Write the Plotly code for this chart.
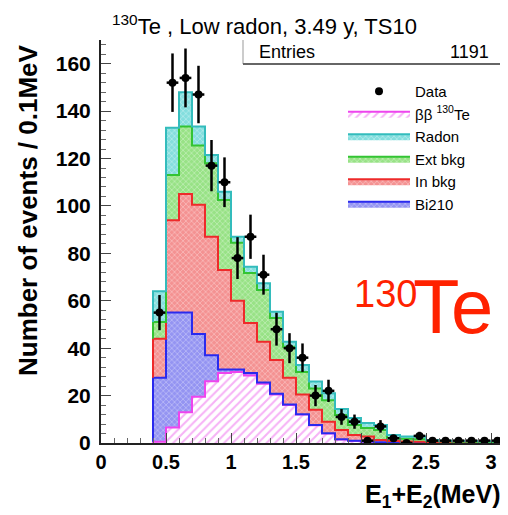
import numpy as np
import plotly.graph_objects as go

# ---- data (0.1 MeV bins, edges 0.4 ... 3.1) ----
bin_edges = [0.4, 0.5, 0.6, 0.7, 0.8, 0.9, 1.0, 1.1, 1.2, 1.3, 1.4, 1.5, 1.6, 1.7,
             1.8, 1.9, 2.0, 2.1, 2.2, 2.3, 2.4, 2.5, 2.6, 2.7, 2.8, 2.9, 3.0, 3.1]
bb2nu = [0.5, 6.5, 13, 19.5, 26, 29.5, 30, 28.5, 25, 20.5, 16, 12, 7.5, 4, 1.5, 0.8,
         0.5, 0.3, 0.2, 0.1, 0.1, 0, 0, 0, 0, 0, 0]
bi210 = [27, 48.5, 42, 26.5, 11, 1.5, 1, 1, 0.5, 0.3, 0.2, 0.1, 0.1, 0.1, 0.1, 0.1,
         0.1, 0, 0, 0, 0, 0, 0, 0, 0, 0, 0]
in_bkg = [16.5, 39, 50, 54.5, 50, 42, 29, 21.1, 17.2, 14.2, 11.3, 8.4, 6.4, 4.9, 3.9,
          2.5, 2.1, 1.0, 0.6, 0.5, 0.4, 0.3, 0.2, 0.1, 0.1, 0.1, 0.1]
ext_bkg = [7, 19, 28.5, 25, 31, 29.5, 24.5, 21.1, 21.8, 17.7, 13.1, 9.5, 9, 9, 6.3,
           4.2, 3.6, 4.2, 1.3, 1.2, 1.1, 0.6, 0.5, 0.4, 0.4, 0.3, 0.3]
radon = [13, 20, 14.5, 8, 3.5, 3.5, 2.5, 2.7, 2.9, 2.7, 2.1, 2.9, 2.9, 3, 2.5, 2.9,
         2.1, 2.1, 1.3, 0.9, 1.1, 0.4, 0.3, 0.3, 0.3, 0.3, 0.3]
data_counts = [55, 152, 154, 147, 117, 110, 78, 87, 71, 48, 40, 36, 20, 22, 11, 9,
               1, 7, 2, 0, 3, 1, 1, 1, 1, 1, 1]

edges = np.array(bin_edges)
centers = 0.5 * (edges[:-1] + edges[1:])

components = [
    # name, values, line colour, pattern shape, fg, bg, solidity, rank
    ("ββ <sup>130</sup>Te", bb2nu, "#ee44ee", "/", "#ee66ee", "#ffffff", 0.35, 2),
    ("Bi210", bi210, "#2a2aee", "x", "#f4f4ff", "#9494f2", 0.3, 6),
    ("In bkg", in_bkg, "#ee2a2a", "x", "#fff4f4", "#f49292", 0.3, 5),
    ("Ext bkg", ext_bkg, "#33c433", "x", "#f4fff4", "#98e286", 0.3, 4),
    ("Radon", radon, "#33bcbc", "x", "#f4ffff", "#84dede", 0.3, 3),
]

fig = go.Figure()
cum = np.zeros(len(centers))
for name, vals, lc, shp, fg, bg, sol, rank in components:
    prev = cum.copy()
    cum = cum + np.array(vals, dtype=float)
    xs = [edges[0]] + list(edges[:-1]) + [edges[-1], edges[-1]]
    ys = [prev[0]] + list(cum) + [cum[-1], prev[-1]]
    fig.add_trace(go.Scatter(
        x=xs, y=ys, mode="lines", name=name, legendrank=rank,
        line=dict(shape="hv", color=lc, width=2),
        fill="tozeroy" if rank == 2 else "tonexty",
        fillpattern=dict(shape=shp, fgcolor=fg, bgcolor=bg,
                         size=6 if shp == "/" else 4, solidity=sol),
        hoverinfo="skip",
    ))

err = np.sqrt(np.array(data_counts, dtype=float))
fig.add_trace(go.Scatter(
    x=centers, y=data_counts, mode="markers", name="Data", legendrank=1,
    marker=dict(color="black", size=8),
    error_y=dict(type="data", array=err, color="black", thickness=2.5, width=0),
    error_x=dict(type="constant", value=0.045, color="black", thickness=2.5, width=0),
))

# reference pixel geometry (page body has an 8px margin, compensated below)
OFF = 8
W0, W1 = 101, 504   # plot x pixels in the picture
H0, H1 = 40, 443    # plot y pixels in the picture
FW, FH = 508 - OFF, 515 - OFF


def px(xp):
    return (xp - W0) / (W1 - W0)


def py(yp):
    return (H1 - yp) / (H1 - H0)


font_fam = "Liberation Sans, Arial, sans-serif"

fig.update_layout(
    width=FW, height=FH,
    margin=dict(l=W0 - OFF, r=508 - W1, t=H0 - OFF, b=515 - H1),
    paper_bgcolor="white", plot_bgcolor="white",
    font=dict(family=font_fam, color="black"),
    showlegend=True,
    legend=dict(x=px(343), y=py(75), xanchor="left", yanchor="top",
                traceorder="normal",
                font=dict(size=15, family=font_fam),
                bgcolor="rgba(0,0,0,0)", itemwidth=62, tracegroupgap=0),
    xaxis=dict(range=[0, 3.1], tickvals=[0, 0.5, 1, 1.5, 2, 2.5, 3],
               ticktext=["0", "0.5", "1", "1.5", "2", "2.5", "3"],
               ticks="inside", ticklen=10, tickcolor="#444", tickwidth=1,
               minor=dict(dtick=0.1, ticks="inside", ticklen=5, tickcolor="#666"),
               showline=True, linecolor="#222", linewidth=2, showgrid=False,
               zeroline=False, automargin=False,
               tickfont=dict(size=20, family=font_fam, weight="bold")),
    yaxis=dict(range=[0, 170], tickvals=[0, 20, 40, 60, 80, 100, 120, 140, 160],
               ticks="inside", ticklen=10, tickcolor="#444", tickwidth=1,
               minor=dict(dtick=4, ticks="inside", ticklen=5, tickcolor="#666"),
               showline=True, linecolor="#222", linewidth=2, showgrid=False,
               zeroline=False, ticklabelstandoff=4, automargin=False,
               tickfont=dict(size=21, family=font_fam, weight="bold")),
)

# right frame line
fig.add_shape(type="line", xref="paper", yref="paper", x0=1, x1=1, y0=0, y1=1,
              line=dict(color="#bbbbbb", width=1))
# stats box
fig.add_shape(type="line", xref="paper", yref="paper", x0=px(243), x1=px(243),
              y0=py(40), y1=py(64), line=dict(color="#999999", width=1))
fig.add_shape(type="line", xref="paper", yref="paper", x0=px(243), x1=px(505),
              y0=py(64), y1=py(64), line=dict(color="#666666", width=2))
fig.add_annotation(text="Entries", xref="paper", yref="paper", x=px(257), y=py(52),
                   xanchor="left", yanchor="middle", showarrow=False,
                   font=dict(size=18, family=font_fam))
fig.add_annotation(text="1191", xref="paper", yref="paper", x=px(491), y=py(52),
                   xanchor="right", yanchor="middle", showarrow=False,
                   font=dict(size=18, family=font_fam))

# title
fig.add_annotation(text="<sup>130</sup>Te , Low radon, 3.49 y, TS10", xref="paper",
                   yref="paper", x=px(264), y=py(OFF + 1), xanchor="center",
                   yanchor="top", showarrow=False,
                   font=dict(size=22, family=font_fam))

# axis titles
fig.add_annotation(text="Number of events / 0.1MeV", xref="paper", yref="paper",
                   x=px(28), y=py(42), xanchor="center", yanchor="top",
                   textangle=-90, showarrow=False,
                   font=dict(size=26, family=font_fam, weight="bold"))
fig.add_annotation(text="E<sub>1</sub>+E<sub>2</sub>(MeV)", xref="paper",
                   yref="paper", x=px(503), y=py(496), xanchor="right",
                   yanchor="middle", showarrow=False,
                   font=dict(size=25, family=font_fam, weight="bold"))

# big isotope label
fig.add_annotation(text="130", xref="paper", yref="paper", x=px(352), y=py(294),
                   xanchor="left", yanchor="middle", showarrow=False,
                   font=dict(size=38, family=font_fam, color="#ff2200"))
fig.add_annotation(text="Te", xref="paper", yref="paper", x=px(411), y=py(307),
                   xanchor="left", yanchor="middle", showarrow=False,
                   font=dict(size=76, family=font_fam, color="#ff2200"))

fig.write_html("out.html")
